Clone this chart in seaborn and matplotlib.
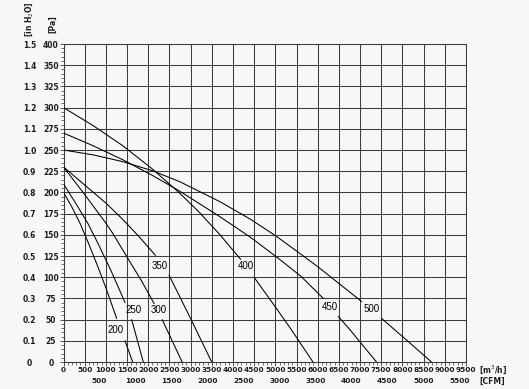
import numpy as np
import pandas as pd
import matplotlib
matplotlib.use("Agg")
import matplotlib.pyplot as plt
import seaborn as sns
from matplotlib.ticker import MultipleLocator

# ---------------- data (airflow m3/h, static pressure in H2O) ----------------
# each fan curve is drawn as two segments (gap where its size label sits)
q_200_a = [0, 200, 400, 600, 800, 1000, 1256]
p_200_a = [0.80, 0.73, 0.65, 0.555, 0.455, 0.35, 0.205]
q_200_b = [1452, 1633]
p_200_b = [0.10, 0.0]

q_250_a = [0, 300, 585, 800, 1100, 1300, 1452]
p_250_a = [0.84, 0.745, 0.65, 0.565, 0.44, 0.35, 0.28]
q_250_b = [1609, 1883]
p_250_b = [0.20, 0.0]

q_300_a = [0, 500, 1000, 1152, 1500, 1850, 2140]
p_300_a = [0.92, 0.79, 0.655, 0.61, 0.495, 0.38, 0.275]
q_300_b = [2330, 2800]
p_300_b = [0.20, 0.0]

q_350_a = [0, 500, 1000, 1411, 1766, 2170]
p_350_a = [0.92, 0.835, 0.75, 0.67, 0.595, 0.503]
q_350_b = [2490, 3000, 3498]
p_350_b = [0.41, 0.205, 0.0]

q_400_a = [0, 700, 1400, 2100, 2750, 3200, 3694, 4182]
p_400_a = [1.20, 1.115, 1.02, 0.91, 0.795, 0.707, 0.60, 0.484]
q_400_b = [4496, 5000, 5369, 5888]
p_400_b = [0.40, 0.26, 0.155, 0.0]

q_450_a = [0, 700, 1400, 2100, 2750, 3694, 4400, 5032, 5600, 6132]
p_450_a = [1.08, 1.02, 0.954, 0.88, 0.805, 0.685, 0.59, 0.495, 0.405, 0.30]
q_450_b = [6486, 6762, 7387]
p_450_b = [0.215, 0.152, 0.0]

q_500_a = [0, 700, 1400, 2100, 2750, 3694, 4400, 5032, 6000, 7038]
p_500_a = [1.0, 0.977, 0.945, 0.902, 0.85, 0.756, 0.675, 0.592, 0.45, 0.285]
q_500_b = [7510, 8100, 8685]
p_500_b = [0.205, 0.103, 0.0]

curve_names = ["200", "250", "300", "350", "400", "450", "500"]
label_q = [1239, 1664, 2237, 2266, 4307, 6278, 7274]
label_p = [0.153, 0.245, 0.246, 0.455, 0.455, 0.261, 0.249]

x_ticks = list(range(0, 9501, 500))
x_tick_labels = [str(v) for v in x_ticks]
cfm_ticks = [500, 1000, 1500, 2000, 2500, 3000, 3500, 4000, 4500, 5000, 5500]
y_ticks_inh2o = [0, 0.1, 0.2, 0.3, 0.4, 0.5, 0.6, 0.7, 0.8, 0.9, 1.0, 1.1, 1.2, 1.3, 1.4, 1.5]
inh2o_labels = ["0", "0.1", "0.2", "0.3", "0.4", "0.5", "0.6", "0.7", "0.8", "0.9",
                "1.0", "1.1", "1.2", "1.3", "1.4", "1.5"]
pa_labels = ["0", "25", "50", "75", "100", "125", "150", "175", "200", "225",
             "250", "275", "300", "325", "350", "400"]
M3H_PER_CFM = 1.699

segments = {
    "200a": (q_200_a, p_200_a), "200b": (q_200_b, p_200_b),
    "250a": (q_250_a, p_250_a), "250b": (q_250_b, p_250_b),
    "300a": (q_300_a, p_300_a), "300b": (q_300_b, p_300_b),
    "350a": (q_350_a, p_350_a), "350b": (q_350_b, p_350_b),
    "400a": (q_400_a, p_400_a), "400b": (q_400_b, p_400_b),
    "450a": (q_450_a, p_450_a), "450b": (q_450_b, p_450_b),
    "500a": (q_500_a, p_500_a), "500b": (q_500_b, p_500_b),
}
rows = []
for seg, (qs, ps) in segments.items():
    for q, p in zip(qs, ps):
        rows.append({"airflow": q, "pressure": p, "seg": seg})
df = pd.DataFrame(rows)

# ---------------- style ----------------
BG = "#f7f7f7"
GRID = "#3c3c3c"
TXT = "#1e1e1e"
sns.set_theme(style="ticks")
plt.rcParams["font.family"] = ["DejaVu Sans"]

W, H = 529, 389
fig = plt.figure(figsize=(W / 100, H / 100), dpi=100, facecolor=BG)
x0, x1, ytop, ybot = 63.5, 466.0, 44.0, 362.0
ax = fig.add_axes([x0 / W, (H - ybot) / H, (x1 - x0) / W, (ybot - ytop) / H])
ax.set_facecolor(BG)

sns.lineplot(data=df, x="airflow", y="pressure", units="seg", estimator=None,
             sort=False, color="black", lw=0.75, ax=ax, zorder=3)

ax.set_xlim(0, 9500)
ax.set_ylim(0, 1.5)
ax.set_xlabel("")
ax.set_ylabel("")

ax.set_xticks(x_ticks)
ax.set_xticklabels(x_tick_labels)
ax.set_yticks(y_ticks_inh2o)
ax.set_yticklabels(pa_labels)
ax.xaxis.set_minor_locator(MultipleLocator(100))
ax.yaxis.set_minor_locator(MultipleLocator(0.02))
ax.grid(True, which="major", color=GRID, lw=0.75)
ax.set_axisbelow(True)
for s in ax.spines.values():
    s.set_color(GRID)
    s.set_linewidth(0.75)

ax.tick_params(axis="both", which="major", length=3, width=0.6, color=GRID,
               direction="out", labelcolor=TXT)
ax.tick_params(axis="both", which="minor", length=2, width=0.5, color=GRID,
               direction="out")
ax.tick_params(axis="x", which="major", labelsize=5.3, pad=0.8)
ax.tick_params(axis="y", which="major", labelsize=5.5, pad=6.0)
for t in ax.get_xticklabels():
    t.set_fontweight("bold")
for t in ax.get_yticklabels():
    t.set_ha("center")
    t.set_fontweight("bold")

# CFM secondary axis
sec = ax.secondary_xaxis("bottom", functions=(lambda q: q / M3H_PER_CFM,
                                              lambda c: c * M3H_PER_CFM))
sec.set_xticks(cfm_ticks)
sec.set_xticklabels([str(c) for c in cfm_ticks])
sec.tick_params(length=0, pad=11.2, labelsize=5.3, labelcolor=TXT)
sec.spines["bottom"].set_visible(False)
for t in sec.get_xticklabels():
    t.set_fontweight("bold")

# inH2O secondary axis
sey = ax.secondary_yaxis("left")
sey.set_yticks(y_ticks_inh2o)
sey.set_yticklabels(inh2o_labels)
sey.tick_params(length=0, pad=24.5, labelsize=5.5, labelcolor=TXT)
sey.spines["left"].set_visible(False)
for t in sey.get_yticklabels():
    t.set_ha("center")
    t.set_fontweight("bold")

# curve labels
for name, q, p in zip(curve_names, label_q, label_p):
    ax.text(q, p, name, ha="center", va="center", fontsize=7, color="black",
            family=["Liberation Sans", "DejaVu Sans"], zorder=4)

# unit labels
fig.text(29 / W, 1 - 19 / H, "[in H$_2$O]", rotation=90, ha="center", va="center",
         fontsize=5.5, fontweight="bold", color=TXT)
fig.text(52.5 / W, 1 - 24.5 / H, "[Pa]", rotation=90, ha="center", va="center",
         fontsize=5.5, fontweight="bold", color=TXT)
fig.text(479 / W, 1 - 370 / H, "[m$^3$/h]", ha="left", va="center",
         fontsize=5.5, fontweight="bold", color=TXT)
fig.text(479 / W, 1 - 381 / H, "[CFM]", ha="left", va="center",
         fontsize=5.5, fontweight="bold", color=TXT)

fig.savefig("out.png", dpi=100, facecolor=BG)
